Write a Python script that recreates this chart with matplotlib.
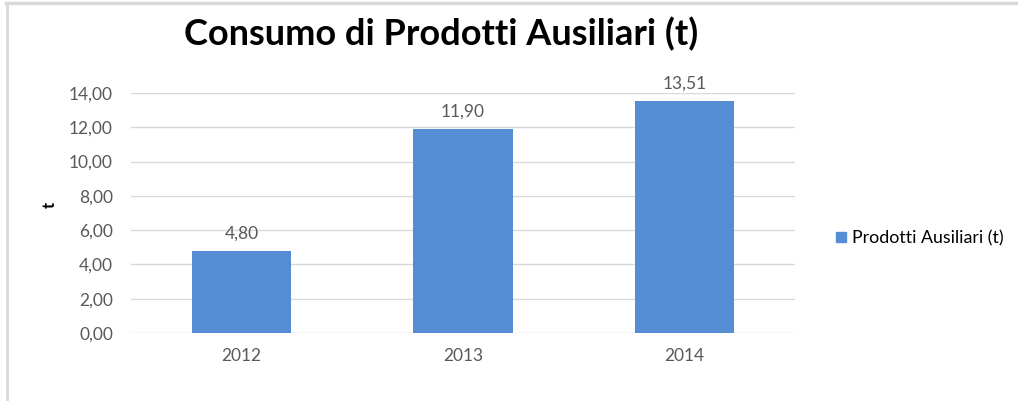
import matplotlib
matplotlib.use("Agg")
import matplotlib.pyplot as plt
from matplotlib.lines import Line2D

# ---- DATA ----
years  = ["2012", "2013", "2014"]
values = [4.80, 11.90, 13.51]
yticks = [0, 2, 4, 6, 8, 10, 12, 14]
# --------------

BAR_COLOR  = "#558ED5"
TEXT_COLOR = "#595959"
GRID_COLOR = "#D9D9D9"

plt.rcParams['font.family'] = ['Lato', 'DejaVu Sans']

fig = plt.figure(figsize=(10.18, 4.01), dpi=100)
ax = fig.add_axes([0.1287, 0.1696, 0.6523, 0.5984])

x = range(len(years))
ax.bar(x, values, width=0.45, color=BAR_COLOR, zorder=3)

for xi, v in zip(x, values):
    ax.text(xi, v + 0.55, f"{v:.2f}".replace(".", ","), ha="center", va="bottom",
            fontsize=12.5, color=TEXT_COLOR)

ax.set_xlim(-0.5, 2.5)
ax.set_ylim(0, 14)
ax.set_yticks(yticks)
ax.set_yticklabels([f"{t:.2f}".replace(".", ",") for t in yticks], fontsize=12.5, color=TEXT_COLOR)
ax.set_xticks(list(x))
ax.set_xticklabels(years, fontsize=12.5, color=TEXT_COLOR)
ax.tick_params(length=0)
ax.tick_params(axis="x", pad=11)
ax.tick_params(axis="y", pad=13)
ax.yaxis.grid(True, color=GRID_COLOR, linewidth=1, zorder=0)
for s in ax.spines.values():
    s.set_visible(False)

fig.text(0.049, 0.49, "t", rotation=90, ha="center", va="center",
         fontsize=12, fontweight="bold", color="black")

fig.text(0.433, 0.915, "Consumo di Prodotti Ausiliari (t)", ha="center", va="center",
         fontsize=26, fontweight="bold", color="black")

handle = Line2D([], [], marker="s", linestyle="none", markersize=7.5,
                markerfacecolor=BAR_COLOR, markeredgecolor=BAR_COLOR)
fig.legend([handle], ["Prodotti Ausiliari (t)"], loc="center left",
           bbox_to_anchor=(0.8, 0.406), frameon=False, fontsize=12.8,
           handletextpad=0.0, handlelength=1.2, labelcolor="black")

# chart frame (top and left edges visible)
fig.add_artist(Line2D([0.006, 1.0], [0.993, 0.993], color="#D9D9D9", linewidth=2.5,
                      transform=fig.transFigure))
fig.add_artist(Line2D([0.007, 0.007], [0.0, 0.993], color="#D9D9D9", linewidth=2,
                      transform=fig.transFigure))

fig.savefig("out.png", dpi=100)
